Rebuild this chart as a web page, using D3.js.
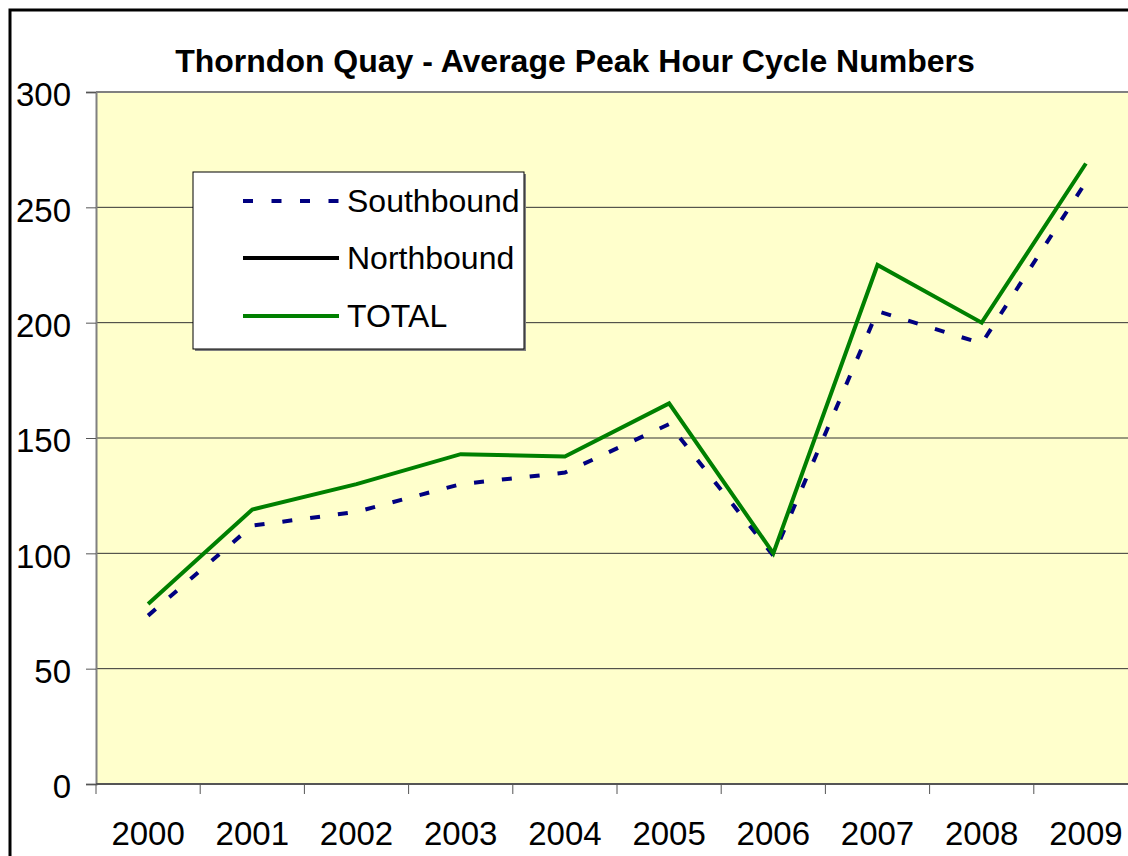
<!DOCTYPE html>
<html>
<head>
<meta charset="utf-8">
<script src="https://cdn.jsdelivr.net/npm/d3@7"></script>
<style>
  body { margin: 0; background: #fff; }
  svg { display: block; font-family: Arial, "Liberation Sans", sans-serif; }
</style>
</head>
<body>
<div id="chart"></div>
<script>
// Data
const years = ["2000", "2001", "2002", "2003", "2004", "2005", "2006", "2007", "2008", "2009"];
const southbound = [73, 112, 118, 130, 135, 156, 99, 205, 191, 261];
const northbound = []; // shown in legend only, nothing plotted
const total = [78, 119, 130, 143, 142, 165, 100, 225, 200, 269];
const yTicks = [0, 50, 100, 150, 200, 250, 300];

const series = [
  {name: "Southbound", values: southbound, color: "#000080", dash: "10,18"},
  {name: "Northbound", values: northbound, color: "#000000", dash: null},
  {name: "TOTAL", values: total, color: "#008000", dash: null}
];

const width = 1128, height = 856;
const margins = {top: 92, right: -10, bottom: 72, left: 96};

const svg = d3.select("#chart")
  .append("svg")
    .attr("width", width)
    .attr("height", height)
    .attr("viewBox", [0, 0, width, height]);

// outer chart frame (runs past the window on the right and bottom)
svg.append("rect")
  .attr("x", 10).attr("y", 10)
  .attr("width", 1200).attr("height", 900)
  .attr("fill", "#fff")
  .attr("stroke", "#000")
  .attr("stroke-width", 3);

const xScale = d3.scaleBand()
  .domain(years)
  .range([margins.left, width - margins.right]);

const yScale = d3.scaleLinear()
  .domain([0, 300])
  .range([height - margins.bottom, margins.top]);

// plot area
svg.append("rect")
  .attr("x", margins.left)
  .attr("y", yScale(300))
  .attr("width", xScale.range()[1] - margins.left)
  .attr("height", yScale(0) - yScale(300))
  .attr("fill", "#ffffcc");

// gridlines
svg.append("g")
  .selectAll("line")
  .data(yTicks.filter(d => d > 0 && d < 300))
  .join("line")
    .attr("x1", margins.left)
    .attr("x2", xScale.range()[1])
    .attr("y1", d => yScale(d))
    .attr("y2", d => yScale(d))
    .attr("stroke", "#333")
    .attr("stroke-width", 1);

// plot top border
svg.append("line")
  .attr("x1", margins.left).attr("x2", xScale.range()[1])
  .attr("y1", yScale(300)).attr("y2", yScale(300))
  .attr("stroke", "#808080").attr("stroke-width", 2);

// y axis
const yAxis = d3.axisLeft(yScale).tickValues(yTicks).tickSize(10).tickPadding(15);
const yGroup = svg.append("g")
  .attr("transform", `translate(${margins.left}, 0)`)
  .call(yAxis);
yGroup.attr("font-size", null).attr("font-family", null);
yGroup.select(".domain").attr("stroke", "#808080").attr("stroke-width", 2);
yGroup.selectAll(".tick line").attr("stroke", "#555");
yGroup.selectAll("text")
  .style("font-size", "33px")
  .attr("fill", "#000")
  .attr("dy", "0.42em");

// x axis: ticks at band boundaries, labels at band centers
const xGroup = svg.append("g")
  .attr("transform", `translate(0, ${yScale(0)})`);
xGroup.append("line")
  .attr("x1", margins.left).attr("x2", xScale.range()[1])
  .attr("stroke", "#555").attr("stroke-width", 2);
xGroup.selectAll("line.tick")
  .data(years)
  .join("line")
    .attr("class", "tick")
    .attr("x1", d => xScale(d))
    .attr("x2", d => xScale(d))
    .attr("y1", 0).attr("y2", 10)
    .attr("stroke", "#555");
xGroup.selectAll("text")
  .data(years)
  .join("text")
    .attr("x", d => xScale(d) + xScale.bandwidth() / 2)
    .attr("y", 61)
    .attr("text-anchor", "middle")
    .style("font-size", "33px")
    .text(d => d);

// lines
const line = d3.line()
  .x((d, i) => xScale(years[i]) + xScale.bandwidth() / 2)
  .y(d => yScale(d));

svg.append("g")
  .selectAll("path")
  .data(series.filter(s => s.values.length))
  .join("path")
    .attr("d", s => line(s.values))
    .attr("fill", "none")
    .attr("stroke", s => s.color)
    .attr("stroke-width", 4)
    .attr("stroke-dasharray", s => s.dash);

// title
svg.append("text")
  .attr("x", 575)
  .attr("y", 72)
  .attr("text-anchor", "middle")
  .style("font-size", "32px")
  .attr("font-weight", "bold")
  .text("Thorndon Quay - Average Peak Hour Cycle Numbers");

// legend
const legend = svg.append("g").attr("transform", "translate(193, 172)");
legend.append("rect")
  .attr("x", 2).attr("y", 2)
  .attr("width", 331).attr("height", 177)
  .attr("fill", "#808080");
legend.append("rect")
  .attr("width", 331).attr("height", 177)
  .attr("fill", "#fff")
  .attr("stroke", "#000")
  .attr("stroke-width", 1);

const item = legend.selectAll("g.item")
  .data(series)
  .join("g")
    .attr("class", "item")
    .attr("transform", (d, i) => `translate(0, ${[29, 86, 144][i]})`);
item.append("line")
  .attr("x1", 50).attr("x2", 146)
  .attr("stroke", d => d.color)
  .attr("stroke-width", 4)
  .attr("stroke-dasharray", d => d.dash ? "10,18.5" : null);
item.append("text")
  .attr("x", 154)
  .attr("y", 11)
  .style("font-size", "32px")
  .text(d => d.name);
</script>
</body>
</html>
